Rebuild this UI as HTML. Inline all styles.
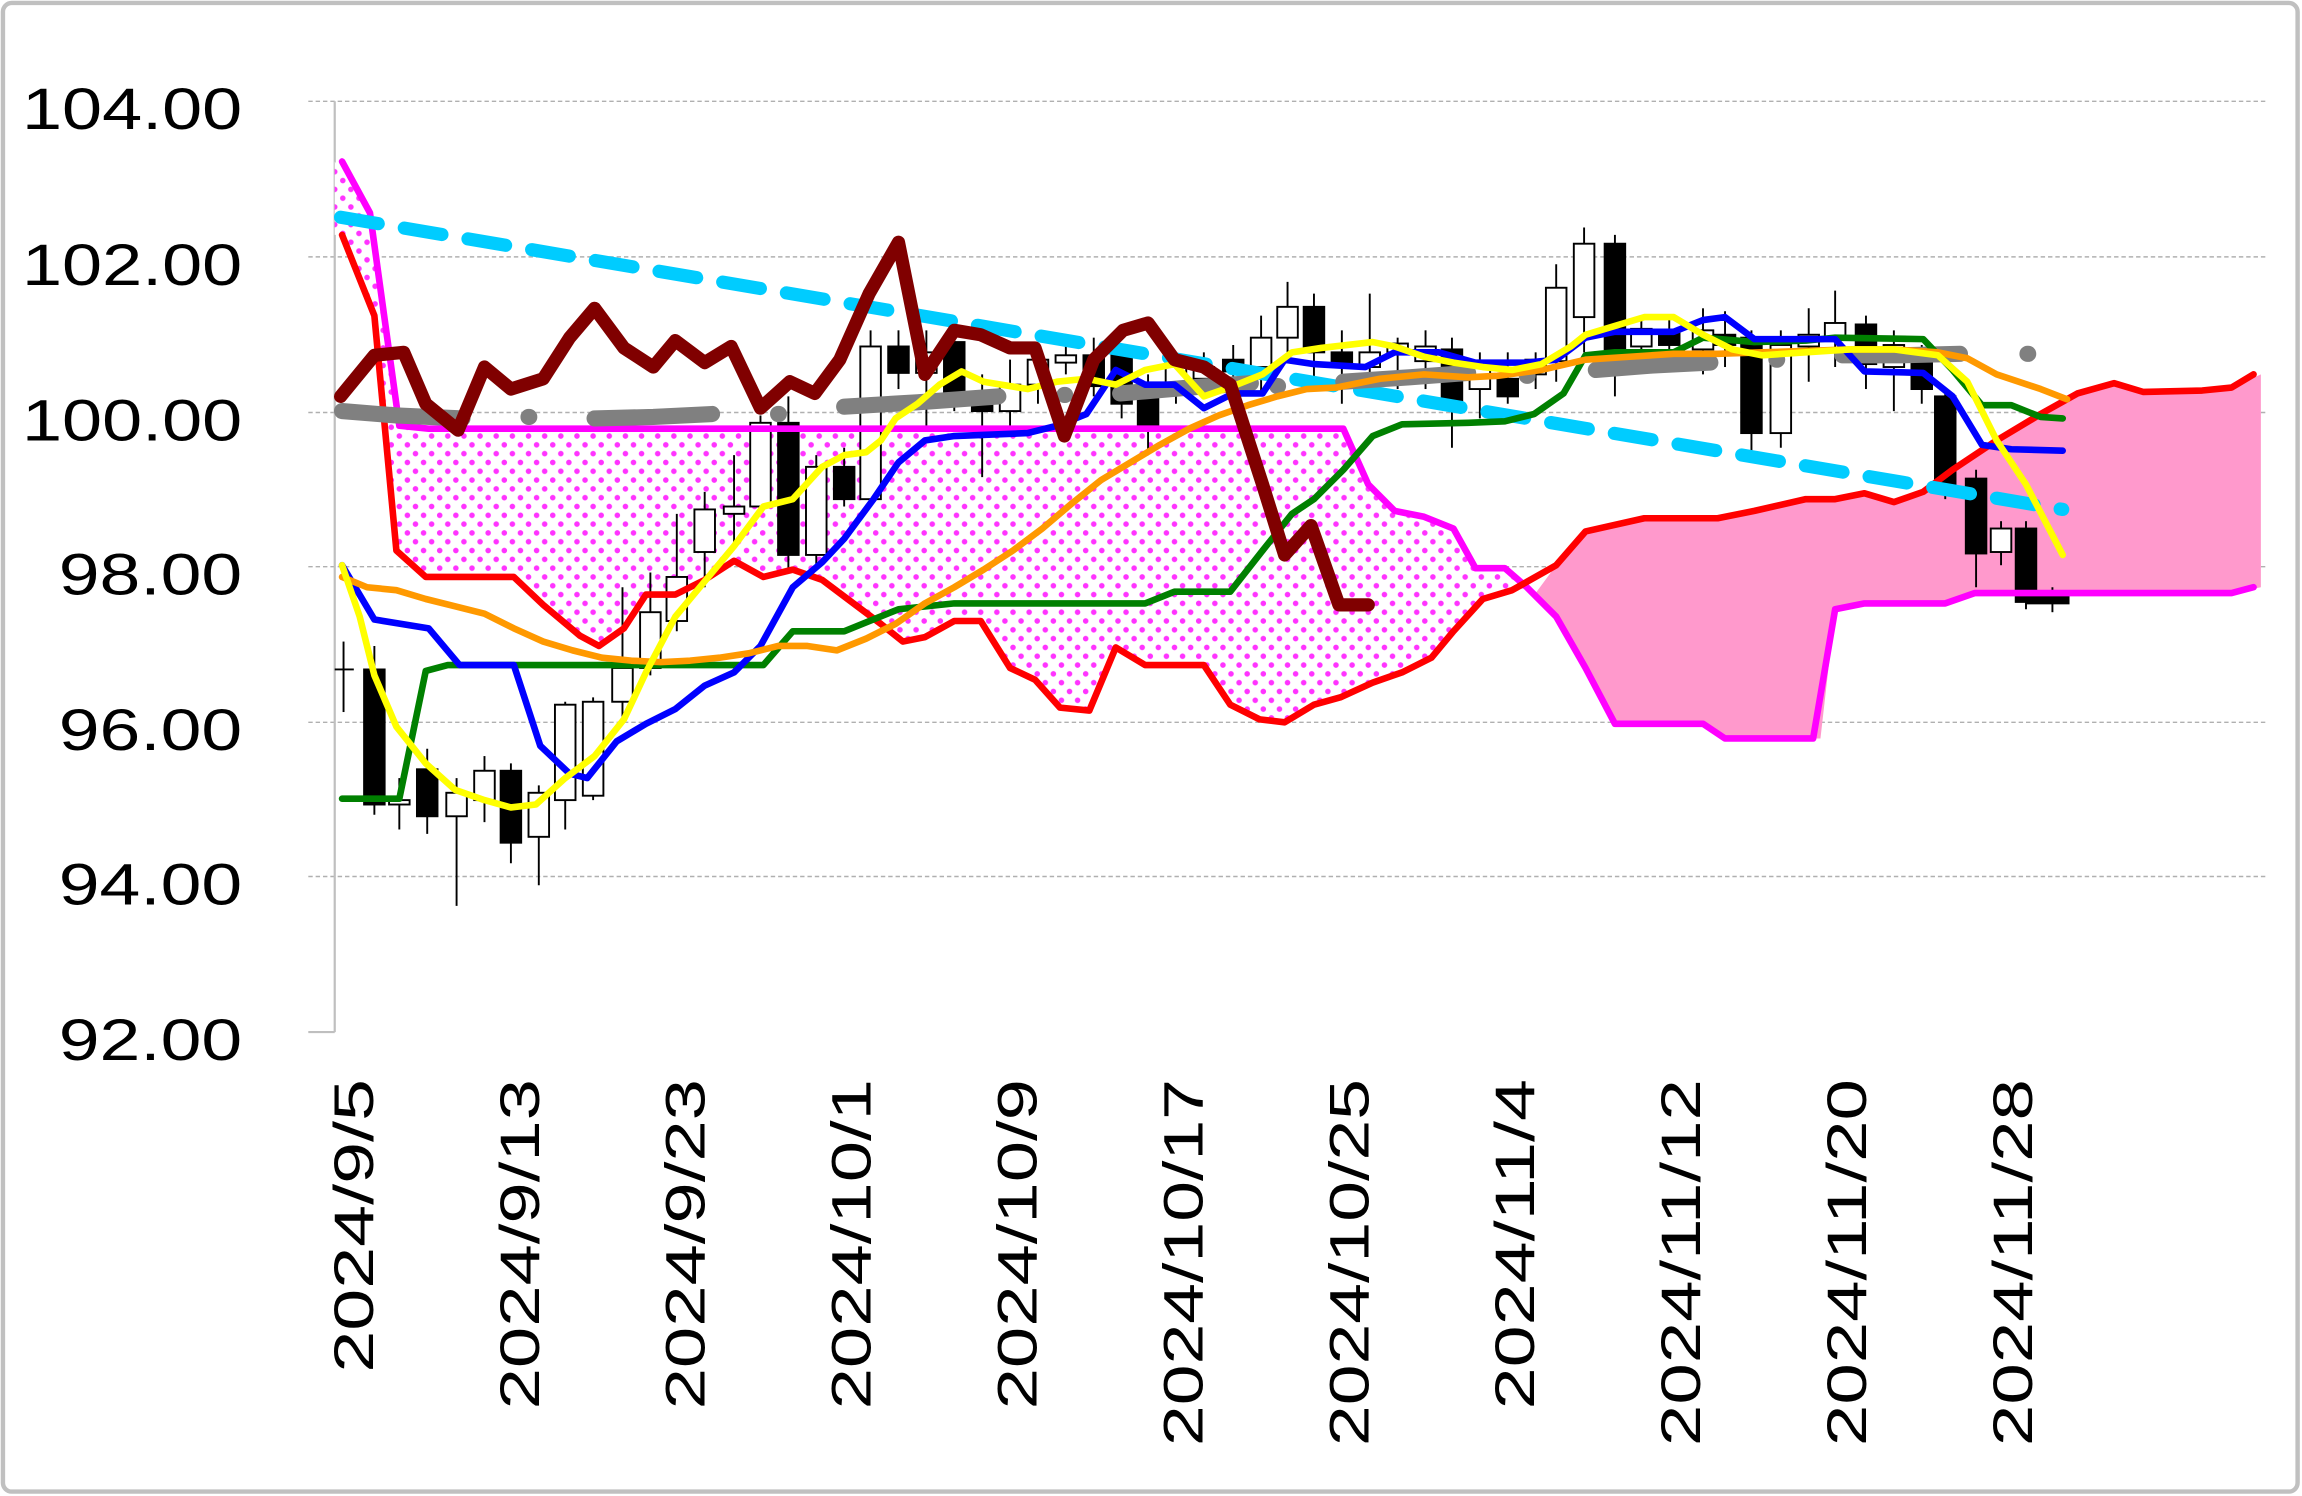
<!DOCTYPE html>
<html><head><meta charset="utf-8"><style>
html,body{margin:0;padding:0;background:#fff;}
svg{display:block}
</style></head><body>
<svg width="2302" height="1496" viewBox="0 0 1568 1019" preserveAspectRatio="none" xmlns="http://www.w3.org/2000/svg">
<defs>
<pattern id="dots" width="11" height="12" patternUnits="userSpaceOnUse">
<rect width="11" height="12" fill="#fff"/>
<circle cx="2.5" cy="3" r="1.9" fill="#ff33ff"/>
<circle cx="8" cy="9" r="1.9" fill="#ff33ff"/>
</pattern>
</defs>
<rect x="2" y="2" width="1563" height="1014" rx="6" fill="#fff" stroke="#c0c0c0" stroke-width="3"/>
<g stroke="#b0b0b0" stroke-width="1" stroke-dasharray="3 2">
<line x1="210" y1="69" x2="1545" y2="69"/>
<line x1="210" y1="175" x2="1545" y2="175"/>
<line x1="210" y1="281" x2="1545" y2="281"/>
<line x1="210" y1="386" x2="1545" y2="386"/>
<line x1="210" y1="492" x2="1545" y2="492"/>
<line x1="210" y1="597" x2="1545" y2="597"/>
</g>
<line x1="228" y1="69" x2="228" y2="703" stroke="#bfbfbf" stroke-width="1.5"/>
<line x1="210" y1="703" x2="228" y2="703" stroke="#bfbfbf" stroke-width="1.5"/>
<g font-family="Liberation Sans, sans-serif" font-size="40" fill="#000" lengthAdjust="spacingAndGlyphs">
<text x="15" y="88" textLength="150" lengthAdjust="spacingAndGlyphs">104.00</text>
<text x="15" y="194" textLength="150" lengthAdjust="spacingAndGlyphs">102.00</text>
<text x="15" y="300" textLength="150" lengthAdjust="spacingAndGlyphs">100.00</text>
<text x="40" y="405" textLength="125" lengthAdjust="spacingAndGlyphs">98.00</text>
<text x="40" y="511" textLength="125" lengthAdjust="spacingAndGlyphs">96.00</text>
<text x="40" y="616" textLength="125" lengthAdjust="spacingAndGlyphs">94.00</text>
<text x="40" y="722" textLength="125" lengthAdjust="spacingAndGlyphs">92.00</text>
</g>
<g font-family="Liberation Sans, sans-serif" font-size="38" fill="#000">
<text transform="translate(254,935) rotate(-90)" textLength="200" lengthAdjust="spacingAndGlyphs">2024/9/5</text>
<text transform="translate(367,960) rotate(-90)" textLength="225" lengthAdjust="spacingAndGlyphs">2024/9/13</text>
<text transform="translate(480,960) rotate(-90)" textLength="225" lengthAdjust="spacingAndGlyphs">2024/9/23</text>
<text transform="translate(593,960) rotate(-90)" textLength="225" lengthAdjust="spacingAndGlyphs">2024/10/1</text>
<text transform="translate(706,960) rotate(-90)" textLength="225" lengthAdjust="spacingAndGlyphs">2024/10/9</text>
<text transform="translate(819,985) rotate(-90)" textLength="250" lengthAdjust="spacingAndGlyphs">2024/10/17</text>
<text transform="translate(932,985) rotate(-90)" textLength="250" lengthAdjust="spacingAndGlyphs">2024/10/25</text>
<text transform="translate(1045,960) rotate(-90)" textLength="225" lengthAdjust="spacingAndGlyphs">2024/11/4</text>
<text transform="translate(1158,985) rotate(-90)" textLength="250" lengthAdjust="spacingAndGlyphs">2024/11/12</text>
<text transform="translate(1271,985) rotate(-90)" textLength="250" lengthAdjust="spacingAndGlyphs">2024/11/20</text>
<text transform="translate(1384,985) rotate(-90)" textLength="250" lengthAdjust="spacingAndGlyphs">2024/11/28</text>
</g>
<polygon fill="url(#dots)" points="228,110 252,145 272,290 292,292 915,292 932,330 950,348 970,352 990,360 1005,387 1025,387 1046,404 1030,402 1010,408 990,430 975,448 955,458 935,465 913,475 895,480 875,492 858,490 838,480 820,453 780,453 760,441 742,484 722,482 705,463 688,455 668,423 650,423 630,434 615,437 600,425 580,410 560,395 540,388 520,393 500,382 480,395 460,405 440,405 425,428 408,440 395,433 370,412 350,393 290,393 270,375 255,215 233,160 228,160"/>
<polygon fill="#ff99cc" points="1046,404 1060,385 1080,362 1120,353 1170,353 1195,348 1230,340 1250,340 1270,336 1290,342 1310,335 1330,320 1360,300 1390,282 1415,268 1440,261 1460,267 1500,266 1520,264 1540,255 1540,400 1520,404 1345,404 1325,411 1270,411 1250,415 1240,503 1175,503 1160,493 1100,493 1080,455 1060,420"/>
<g stroke="#000" stroke-width="1.3">
<line x1="234" y1="437" x2="234" y2="485"/><line x1="228" y1="456" x2="241" y2="456"/>
<line x1="255" y1="440" x2="255" y2="555"/><rect x="248" y="456" width="14" height="92" fill="#000"/>
<line x1="272" y1="530" x2="272" y2="565"/><rect x="265" y="545" width="14" height="3" fill="#fff"/>
<line x1="291" y1="510" x2="291" y2="568"/><rect x="284" y="524" width="14" height="32" fill="#000"/>
<line x1="311" y1="530" x2="311" y2="617"/><rect x="304" y="540" width="14" height="16" fill="#fff"/>
<line x1="330" y1="515" x2="330" y2="560"/><rect x="323" y="525" width="14" height="20" fill="#fff"/>
<line x1="348" y1="520" x2="348" y2="588"/><rect x="341" y="525" width="14" height="49" fill="#000"/>
<line x1="367" y1="535" x2="367" y2="603"/><rect x="360" y="540" width="14" height="30" fill="#fff"/>
<line x1="385" y1="478" x2="385" y2="565"/><rect x="378" y="480" width="14" height="65" fill="#fff"/>
<line x1="404" y1="475" x2="404" y2="545"/><rect x="397" y="478" width="14" height="64" fill="#fff"/>
<line x1="424" y1="400" x2="424" y2="490"/><rect x="417" y="455" width="14" height="23" fill="#fff"/>
<line x1="443" y1="390" x2="443" y2="460"/><rect x="436" y="417" width="14" height="38" fill="#fff"/>
<line x1="461" y1="350" x2="461" y2="430"/><rect x="454" y="393" width="14" height="30" fill="#fff"/>
<line x1="480" y1="335" x2="480" y2="400"/><rect x="473" y="347" width="14" height="29" fill="#fff"/>
<line x1="500" y1="310" x2="500" y2="370"/><rect x="493" y="345" width="14" height="5" fill="#fff"/>
<line x1="518" y1="283" x2="518" y2="350"/><rect x="511" y="288" width="14" height="57" fill="#fff"/>
<line x1="537" y1="270" x2="537" y2="390"/><rect x="530" y="288" width="14" height="90" fill="#000"/>
<line x1="556" y1="310" x2="556" y2="385"/><rect x="549" y="318" width="14" height="60" fill="#fff"/>
<line x1="575" y1="305" x2="575" y2="345"/><rect x="568" y="318" width="14" height="22" fill="#000"/>
<line x1="593" y1="225" x2="593" y2="345"/><rect x="586" y="236" width="14" height="104" fill="#fff"/>
<line x1="612" y1="225" x2="612" y2="265"/><rect x="605" y="236" width="14" height="18" fill="#000"/>
<line x1="631" y1="225" x2="631" y2="290"/><rect x="624" y="240" width="14" height="14" fill="#fff"/>
<line x1="650" y1="220" x2="650" y2="280"/><rect x="643" y="233" width="14" height="37" fill="#000"/>
<line x1="669" y1="255" x2="669" y2="325"/><rect x="662" y="270" width="14" height="10" fill="#000"/>
<line x1="688" y1="245" x2="688" y2="290"/><rect x="681" y="262" width="14" height="18" fill="#fff"/>
<line x1="707" y1="235" x2="707" y2="275"/><rect x="700" y="245" width="14" height="17" fill="#fff"/>
<line x1="726" y1="235" x2="726" y2="255"/><rect x="719" y="242" width="14" height="5" fill="#fff"/>
<line x1="745" y1="230" x2="745" y2="270"/><rect x="738" y="242" width="14" height="21" fill="#000"/>
<line x1="764" y1="235" x2="764" y2="285"/><rect x="757" y="242" width="14" height="33" fill="#000"/>
<line x1="782" y1="255" x2="782" y2="310"/><rect x="775" y="265" width="14" height="25" fill="#000"/>
<line x1="801" y1="240" x2="801" y2="275"/><rect x="794" y="250" width="14" height="15" fill="#fff"/>
<line x1="820" y1="240" x2="820" y2="270"/><rect x="813" y="250" width="14" height="8" fill="#fff"/>
<line x1="840" y1="235" x2="840" y2="280"/><rect x="833" y="245" width="14" height="8" fill="#000"/>
<line x1="859" y1="215" x2="859" y2="270"/><rect x="852" y="230" width="14" height="20" fill="#fff"/>
<line x1="877" y1="192" x2="877" y2="240"/><rect x="870" y="209" width="14" height="21" fill="#fff"/>
<line x1="895" y1="200" x2="895" y2="260"/><rect x="888" y="209" width="14" height="31" fill="#000"/>
<line x1="914" y1="225" x2="914" y2="275"/><rect x="907" y="240" width="14" height="8" fill="#000"/>
<line x1="933" y1="200" x2="933" y2="270"/><rect x="926" y="240" width="14" height="10" fill="#fff"/>
<line x1="952" y1="230" x2="952" y2="265"/><rect x="945" y="234" width="14" height="6" fill="#fff"/>
<line x1="971" y1="225" x2="971" y2="265"/><rect x="964" y="236" width="14" height="10" fill="#fff"/>
<line x1="989" y1="230" x2="989" y2="305"/><rect x="982" y="238" width="14" height="38" fill="#000"/>
<line x1="1008" y1="240" x2="1008" y2="285"/><rect x="1001" y="250" width="14" height="15" fill="#fff"/>
<line x1="1027" y1="240" x2="1027" y2="275"/><rect x="1020" y="258" width="14" height="12" fill="#000"/>
<line x1="1046" y1="240" x2="1046" y2="265"/><rect x="1039" y="245" width="14" height="10" fill="#fff"/>
<line x1="1060" y1="180" x2="1060" y2="260"/><rect x="1053" y="196" width="14" height="50" fill="#fff"/>
<line x1="1079" y1="155" x2="1079" y2="240"/><rect x="1072" y="166" width="14" height="50" fill="#fff"/>
<line x1="1100" y1="160" x2="1100" y2="270"/><rect x="1093" y="166" width="14" height="72" fill="#000"/>
<line x1="1118" y1="215" x2="1118" y2="245"/><rect x="1111" y="224" width="14" height="12" fill="#fff"/>
<line x1="1137" y1="215" x2="1137" y2="250"/><rect x="1130" y="225" width="14" height="10" fill="#000"/>
<line x1="1160" y1="210" x2="1160" y2="255"/><rect x="1153" y="225" width="14" height="13" fill="#fff"/>
<line x1="1175" y1="212" x2="1175" y2="250"/><rect x="1168" y="228" width="14" height="7" fill="#000"/>
<line x1="1193" y1="225" x2="1193" y2="312"/><rect x="1186" y="230" width="14" height="65" fill="#000"/>
<line x1="1213" y1="225" x2="1213" y2="305"/><rect x="1206" y="235" width="14" height="60" fill="#fff"/>
<line x1="1232" y1="210" x2="1232" y2="260"/><rect x="1225" y="228" width="14" height="8" fill="#fff"/>
<line x1="1250" y1="198" x2="1250" y2="250"/><rect x="1243" y="220" width="14" height="10" fill="#fff"/>
<line x1="1271" y1="215" x2="1271" y2="265"/><rect x="1264" y="221" width="14" height="27" fill="#000"/>
<line x1="1290" y1="225" x2="1290" y2="280"/><rect x="1283" y="235" width="14" height="15" fill="#fff"/>
<line x1="1309" y1="235" x2="1309" y2="275"/><rect x="1302" y="245" width="14" height="20" fill="#000"/>
<line x1="1325" y1="265" x2="1325" y2="340"/><rect x="1318" y="270" width="14" height="60" fill="#000"/>
<line x1="1346" y1="320" x2="1346" y2="400"/><rect x="1339" y="326" width="14" height="51" fill="#000"/>
<line x1="1363" y1="355" x2="1363" y2="385"/><rect x="1356" y="360" width="14" height="16" fill="#fff"/>
<line x1="1380" y1="355" x2="1380" y2="415"/><rect x="1373" y="360" width="14" height="50" fill="#000"/>
<line x1="1398" y1="400" x2="1398" y2="417"/><rect x="1381" y="405" width="28" height="6" fill="#000"/>
</g>
<g fill="none" stroke-linejoin="round" stroke-linecap="round">
<polyline stroke="#ff00ff" stroke-width="4.5" points="233,110 252,145 272,290 292,292 915,292 932,330 950,348 970,352 990,360 1005,387 1025,387 1040,400 1060,420 1080,455 1100,493 1160,493 1175,503 1235,503 1250,415 1270,411 1325,411 1345,404 1520,404 1535,400"/>
<polyline stroke="#ff0000" stroke-width="4.5" points="233,160 255,215 270,375 290,393 350,393 370,412 395,433 408,440 425,428 440,405 460,405 480,395 500,382 520,393 540,388 560,395 580,410 600,425 615,437 630,434 650,423 668,423 688,455 705,463 722,482 742,484 760,441 780,453 820,453 838,480 858,490 875,492 895,480 913,475 935,465 955,458 975,448 990,430 1010,408 1030,402 1060,385 1080,362 1120,353 1170,353 1195,348 1230,340 1250,340 1270,336 1290,342 1310,335 1330,320 1360,300 1390,282 1415,268 1440,261 1460,267 1500,266 1520,264 1535,255"/>
<line x1="232" y1="148" x2="1405" y2="347" stroke="#00ccff" stroke-width="9" stroke-dasharray="26 18"/>
<g stroke="#808080" stroke-width="11">
<polyline points="233,280 270,283 315,285"/>
<line x1="360" y1="284" x2="360.5" y2="284"/>
<polyline points="405,285 445,284 485,282"/>
<line x1="530" y1="282" x2="530.5" y2="282"/>
<polyline points="575,277 625,274 680,270"/>
<line x1="725" y1="269" x2="725.5" y2="269"/>
<polyline points="763,268 810,264 852,261"/>
<line x1="870" y1="263" x2="870.5" y2="263"/>
<polyline points="915,260 960,257 1000,254"/>
<line x1="1040" y1="256" x2="1040.5" y2="256"/>
<polyline points="1087,252 1125,249 1165,247"/>
<line x1="1210" y1="245" x2="1210.5" y2="245"/>
<polyline points="1255,242 1295,242 1335,241"/>
<line x1="1381" y1="241" x2="1381.5" y2="241"/>
</g>
<polyline stroke="#008000" stroke-width="4.5" points="233,544 272,544 290,457 305,453 520,453 540,430 575,430 612,415 650,411 780,411 800,403 838,403 860,375 880,350 895,340 915,320 935,297 955,289 1000,288 1025,287 1045,282 1065,268 1080,242 1100,240 1140,240 1160,230 1195,233 1230,232 1250,230 1310,231 1330,252 1350,276 1370,276 1390,284 1405,285"/>
<polyline stroke="#0000ff" stroke-width="4.5" points="233,385 255,422 292,428 313,453 350,453 368,508 388,527 400,530 420,505 440,493 460,483 480,467 500,458 518,440 540,400 560,383 575,367 595,340 612,315 630,300 650,297 700,295 720,290 740,282 760,252 780,262 800,262 820,278 840,268 860,268 875,245 895,248 930,250 950,240 980,240 1005,247 1040,247 1060,245 1080,230 1100,226 1140,226 1160,218 1175,216 1195,231 1250,231 1270,253 1310,254 1330,270 1350,303 1370,306 1405,307"/>
<polyline stroke="#ff9900" stroke-width="4.5" points="233,393 250,400 270,402 290,408 310,413 330,418 350,428 370,437 390,443 410,448 430,450 450,451 470,450 490,448 510,445 530,440 550,440 570,443 590,435 610,425 630,411 650,400 670,388 690,375 710,360 730,343 750,327 770,315 790,303 810,292 830,283 850,276 870,270 890,265 910,264 940,258 970,255 1000,257 1020,256 1050,252 1080,245 1110,243 1140,241 1170,241 1200,240 1230,239 1260,238 1290,238 1320,240 1340,244 1360,255 1390,265 1408,272"/>
<polyline stroke="#ffff00" stroke-width="4.5" points="233,385 245,420 255,460 270,495 290,520 310,538 330,545 348,550 365,548 385,530 405,515 425,490 440,458 460,420 485,390 500,372 520,345 540,340 560,318 575,310 590,308 600,300 610,285 625,275 640,262 655,253 670,260 700,265 720,260 740,258 760,262 780,252 800,248 820,270 840,263 860,255 880,240 900,237 935,233 950,236 970,243 990,247 1010,250 1030,252 1050,248 1070,236 1080,228 1100,222 1120,216 1140,216 1160,228 1180,238 1200,242 1230,240 1260,238 1290,238 1320,242 1340,260 1360,300 1380,330 1405,378"/>
<polyline stroke="#800000" stroke-width="9" points="232,270 255,242 275,240 290,275 312,293 330,250 348,265 370,258 388,230 405,210 425,237 445,250 460,232 480,247 498,236 518,278 538,260 555,268 572,245 592,200 612,165 630,255 650,225 668,228 688,237 705,237 725,297 745,245 765,225 782,220 800,245 820,250 838,262 860,330 875,378 893,358 912,412 932,412"/>
</g>
</svg>
</body></html>
